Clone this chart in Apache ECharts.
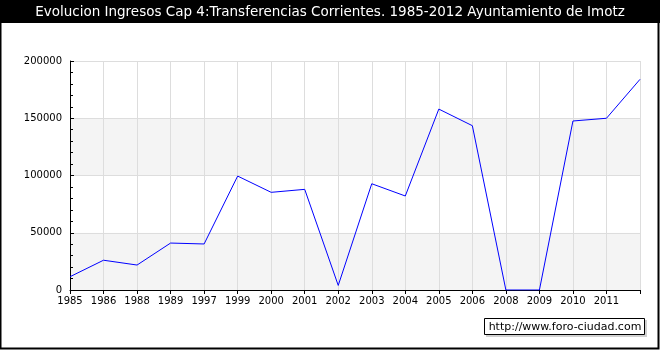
<!DOCTYPE html>
<html><head><meta charset="utf-8">
<script src="https://cdn.jsdelivr.net/npm/echarts@6/dist/echarts.min.js"></script>
<style>html,body{margin:0;padding:0;background:#fff}#c{width:660px;height:350px}</style>
</head><body><div id="c"></div>
<script>
const titleText = 'Evolucion Ingresos Cap 4:Transferencias Corrientes. 1985-2012 Ayuntamiento de Imotz';
const years = ['1985','1986','1988','1989','1997','1999','2000','2001','2002','2003','2004','2005','2006','2008','2009','2010','2011','2012'];
const values = [11600,26000,21800,41000,40200,99500,85300,87900,4000,92800,82100,158000,143500,0,0,147600,150000,184000];
const yTicks = [0,50000,100000,150000,200000];
const watermark = 'http://www.foro-ciudad.com';

const chart = echarts.init(document.getElementById('c'));
const font = 'DejaVu Sans, Verdana, sans-serif';
chart.setOption({
  animation:false,
  backgroundColor:'#fff',
  grid:{left:70,right:20,top:61,bottom:60},
  xAxis:{type:'category',data:years,boundaryGap:false,
    axisLine:{lineStyle:{color:'#000',width:1}},
    axisTick:{show:true,inside:false,length:4,lineStyle:{color:'#000'},interval:0},
    axisLabel:{color:'#000',fontFamily:font,fontSize:10,margin:6,interval:(i)=>i<years.length-1},
    splitLine:{show:true,interval:0,lineStyle:{color:'#dddddd',width:1}}
  },
  yAxis:{type:'value',min:yTicks[0],max:yTicks[yTicks.length-1],interval:50000,
    axisLine:{show:true,lineStyle:{color:'#000',width:1}},
    axisTick:{show:true,inside:true,length:4,lineStyle:{color:'#000'}},
    minorTick:{show:true,splitNumber:5,length:3,lineStyle:{color:'#000'}},
    axisLabel:{color:'#000',fontFamily:font,fontSize:10,margin:8,formatter:(v)=>String(v)},
    splitLine:{show:true,lineStyle:{color:'#dddddd',width:1}},
    splitArea:{show:true,areaStyle:{color:['#f4f4f4','#ffffff']}}
  },
  series:[{type:'line',data:values,symbol:'none',lineStyle:{color:'#0000ff',width:1},z:5}],
  graphic:[
    {type:'rect',shape:{x:0,y:0,width:660,height:23},style:{fill:'#000'},z:10},
    {type:'text',x:330,y:12,style:{text:titleText,fill:'#fff',font:'13.5px '+font,textAlign:'center',textVerticalAlign:'middle'},z:11},
    {type:'rect',shape:{x:0.5,y:0.5,width:658,height:348},style:{fill:null,stroke:'#000',lineWidth:2},z:12},
    {type:'rect',shape:{x:486,y:320,width:161,height:17},style:{fill:'#d0d0d0'},z:10},
    {type:'rect',shape:{x:484.5,y:318.5,width:160,height:16},style:{fill:'#fff',stroke:'#000',lineWidth:1},z:11},
    {type:'text',x:565,y:327,style:{text:watermark,fill:'#000',font:'11px '+font,textAlign:'center',textVerticalAlign:'middle'},z:12}
  ]
});
</script></body></html>
